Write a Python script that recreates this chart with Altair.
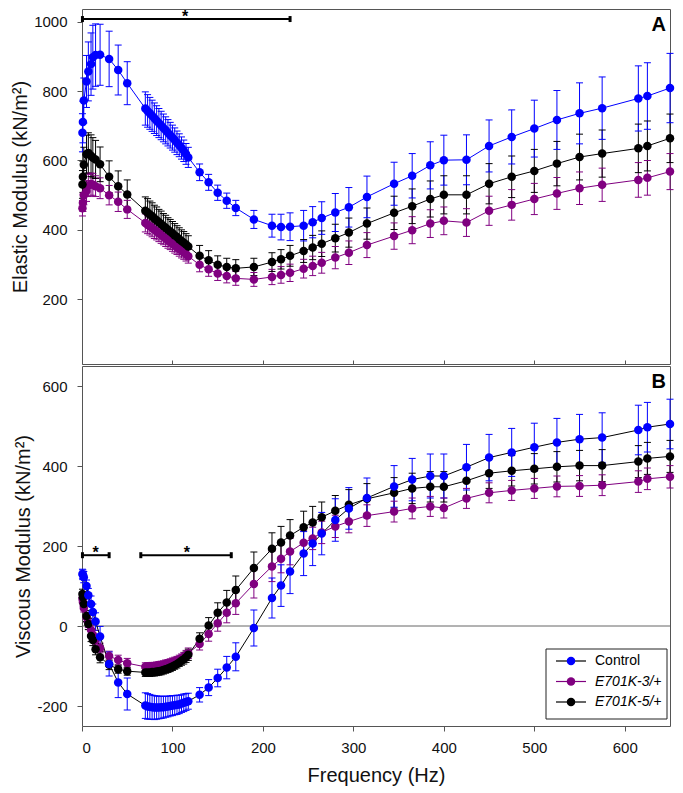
import altair as alt
import pandas as pd

# ---------------- data ----------------
freq = [0.5, 1, 2, 5, 7, 10, 12, 15, 20, 30, 40, 50,
        70, 72.5, 75, 77.5, 80, 82.5, 85, 87.5, 90, 92.5, 95, 97.5, 100, 102.5, 105, 107.5, 110, 112.5, 115, 117.5,
        130, 140, 150, 160, 170, 190, 210, 220, 230, 245, 255, 265, 280, 295, 315, 345, 365, 385, 400, 425, 450,
        475, 500, 525, 550, 575, 615, 625, 650]

genotypes = ["Control", "E701K-3/+", "E701K-5/+"]
series_colors = ["#0000FF", "#800080", "#000000"]

# Panel A: elastic modulus
elastic_control = [680, 711, 773, 828, 857, 878, 898, 904, 905, 893, 861, 823,
                   750, 743, 736, 729, 722, 715, 708, 701, 694, 687, 680, 673, 666, 659, 651, 644, 636, 628, 619, 609,
                   566, 537, 507, 484, 463, 430, 412, 408, 409, 412, 422, 434, 450, 465, 495, 533, 556, 586, 601, 602,
                   642, 668, 692, 717, 736, 751, 779, 786, 809]
elastic_control_se = [55, 60, 65, 75, 85, 90, 92, 90, 88, 80, 72, 62,
                      48, 47, 46, 45, 44, 43, 42, 41, 40, 39, 38, 37, 36, 35, 34, 33, 32, 31, 30, 29,
                      24, 23, 22, 22, 22, 26, 33, 37, 40, 44, 45, 47, 55, 57, 60, 62, 64, 68, 72, 72,
                      75, 78, 82, 85, 88, 90, 94, 96, 100]
elastic_e3 = [462, 478, 500, 512, 528, 532, 530, 526, 520, 500, 481, 459,
              420, 415, 410, 405, 400, 395, 390, 385, 380, 375, 370, 365, 360, 355, 350, 345, 340, 335, 330, 324,
              299, 286, 274, 267, 260, 257, 264, 270, 276, 288, 296, 305, 320, 334, 356, 382, 399, 418, 426, 421,
              455, 472, 489, 505, 520, 530, 544, 550, 568]
elastic_e3_se = [22, 25, 28, 30, 32, 32, 32, 30, 30, 28, 28, 26,
                 26, 26, 25, 25, 25, 24, 24, 24, 23, 23, 23, 22, 22, 22, 21, 21, 21, 20, 20, 20,
                 20, 20, 20, 20, 20, 20, 22, 24, 25, 27, 28, 30, 32, 34, 36, 38, 39, 40, 40, 40,
                 42, 44, 45, 46, 47, 48, 50, 50, 52]
elastic_e5 = [531, 553, 588, 618, 622, 614, 608, 603, 589, 553, 526, 502,
              455, 450, 444, 439, 433, 428, 422, 417, 411, 406, 400, 395, 390, 384, 379, 373, 368, 363, 358, 352,
              325, 312, 299, 293, 289, 293, 307, 315, 325, 339, 349, 360, 376, 392, 418, 449, 468, 489, 501, 501,
              533, 553, 570, 591, 610, 620, 635, 642, 664]
elastic_e5_se = [40, 45, 50, 55, 58, 60, 58, 55, 50, 46, 44, 42,
                 40, 40, 39, 39, 38, 38, 37, 37, 36, 36, 35, 35, 34, 34, 33, 33, 32, 32, 31, 31,
                 30, 28, 26, 25, 25, 25, 27, 28, 30, 33, 35, 37, 40, 42, 45, 48, 50, 52, 55, 55,
                 58, 60, 62, 64, 66, 68, 70, 72, 70]

# Panel B: viscous modulus
viscous_control = [130, 128, 122, 100, 77, 55, 35, 11, -26, -95, -141, -170,
                   -199, -201, -202, -203, -204, -204, -204, -203, -203, -202, -201, -200, -199, -198, -197, -196,
                   -194, -192, -190, -188,
                   -172, -154, -130, -104, -77, -5, 70, 101, 136, 181, 206, 231, 265, 294, 320, 349, 366, 375, 375,
                   397, 421, 434, 447, 459, 467, 471, 490, 497, 505]
viscous_control_se = [12, 12, 14, 15, 17, 20, 20, 22, 25, 30, 38, 40,
                      32, 32, 31, 30, 30, 29, 28, 28, 27, 26, 26, 25, 25, 24, 24, 23, 22, 22, 21, 20,
                      18, 20, 22, 28, 35, 45, 50, 52, 55, 55, 55, 53, 53, 52, 50, 52, 53, 55, 55, 57,
                      58, 60, 60, 60, 62, 62, 62, 62, 62]
viscous_e3 = [68, 60, 45, 22, 8, -10, -22, -35, -55, -75, -85, -93,
              -102, -102, -102, -101, -101, -100, -99, -98, -97, -95, -94, -92, -90, -88, -86, -83, -80, -77, -73, -68,
              -45, -20, 7, 33, 57, 105, 149, 168, 186, 208, 219, 234, 249, 261, 276, 286, 294, 299, 295, 319,
              333, 339, 344, 349, 350, 352, 361, 368, 373]
viscous_e3_se = [10, 10, 10, 12, 12, 12, 12, 12, 12, 12, 12, 12,
                 10, 10, 10, 10, 10, 10, 10, 10, 10, 10, 10, 10, 10, 10, 10, 10, 10, 11, 12, 13,
                 15, 18, 20, 25, 28, 35, 38, 35, 33, 30, 28, 28, 28, 28, 27, 26, 26, 25, 25, 25,
                 25, 25, 25, 26, 26, 26, 27, 27, 28]
viscous_e5 = [80, 72, 55, 25, 5, -25, -35, -58, -78, -97, -108, -113,
              -116, -116, -116, -115, -115, -114, -113, -112, -110, -108, -106, -104, -101, -98, -95, -91, -87, -83,
              -78, -72,
              -32, 1, 33, 59, 90, 145, 193, 209, 226, 247, 259, 272, 288, 303, 318, 333, 344, 348, 348, 363,
              382, 388, 393, 398, 401, 401, 411, 419, 424]
viscous_e5_se = [12, 12, 12, 14, 14, 14, 14, 14, 14, 12, 10, 10,
                 10, 10, 10, 10, 10, 10, 10, 10, 10, 10, 10, 10, 10, 10, 10, 10, 11, 12, 13, 14,
                 15, 20, 25, 30, 35, 40, 40, 40, 40, 40, 40, 38, 38, 38, 38, 38, 38, 38, 38, 38,
                 38, 38, 38, 38, 38, 40, 40, 40, 40]

# significance bars
sigA_start = [0.5]
sigA_end = [230]
sigA_y = [1008]
sigA_star = [114]
sigB_start = [0.5, 65]
sigB_end = [30, 165]
sigB_y = [177, 177]
sigB_star = [15, 116]
zero_line = [0]


def long_table(series):
    rows = []
    for g, vals, errs in series:
        for f, v, e in zip(freq, vals, errs):
            rows.append({"freq": f, "value": v, "lo": v - e, "hi": v + e, "genotype": g})
    return pd.DataFrame(rows)


# drawing order: purple, black, then blue on top
dfA = long_table([("E701K-3/+", elastic_e3, elastic_e3_se),
                  ("E701K-5/+", elastic_e5, elastic_e5_se),
                  ("Control", elastic_control, elastic_control_se)])
dfB = long_table([("E701K-3/+", viscous_e3, viscous_e3_se),
                  ("E701K-5/+", viscous_e5, viscous_e5_se),
                  ("Control", viscous_control, viscous_control_se)])

FONT = "Liberation Sans"
W = 588
HA = 355
HB = 360
xscale = alt.Scale(domain=[0, 650], nice=False, zero=False)
tick_vals = [0, 100, 200, 300, 400, 500, 600]

axisA_x = alt.Axis(values=tick_vals, labels=False, domain=False, title=None, tickSize=4, offset=-4)
axisB_x = alt.Axis(values=tick_vals, title="Frequency (Hz)", labelPadding=9, titlePadding=10)


def color_enc():
    return alt.Color("genotype:N", scale=alt.Scale(domain=genotypes, range=series_colors), legend=None)


def build_panel(df, ydomain, yvals, ytitle, xaxis, line_stroke, label, sig):
    yscale = alt.Scale(domain=ydomain, nice=False, zero=False)
    yaxis = alt.Axis(values=yvals, title=ytitle, labelPadding=10, titlePadding=3,
                     labelExpr="'' + datum.value")
    X = lambda f="freq": alt.X(f"{f}:Q", scale=xscale, axis=xaxis)
    Y = lambda f="value": alt.Y(f"{f}:Q", scale=yscale, axis=yaxis)
    base = alt.Chart(df)
    layers = []
    if label == "B":
        layers.append(alt.Chart(pd.DataFrame({"value": zero_line})).mark_rule(color="#666", strokeWidth=1)
                      .encode(y=Y()))
    layers.append(base.mark_rule(strokeWidth=1).encode(x=X(), y=Y("lo"), y2="hi", color=color_enc()))
    layers.append(base.mark_tick(orient="horizontal", size=7, thickness=1, opacity=1)
                  .encode(x=X(), y=Y("lo"), color=color_enc()))
    layers.append(base.mark_tick(orient="horizontal", size=7, thickness=1, opacity=1)
                  .encode(x=X(), y=Y("hi"), color=color_enc()))
    layers.append(base.mark_line(strokeWidth=1).encode(x=X(), y=Y(), detail="genotype:N", stroke=line_stroke,
                                                         order="freq:Q"))
    layers.append(base.mark_circle(size=72, opacity=1).encode(x=X(), y=Y(), color=color_enc()))
    # significance bars
    starts, ends, ys, stars = sig
    sig_df = pd.DataFrame({"freq": starts, "freq2": ends, "value": ys})
    caps_df = pd.DataFrame({"freq": starts + ends, "value": ys + ys})
    star_df = pd.DataFrame({"freq": stars, "value": ys, "t": ["*"] * len(stars)})
    layers.append(alt.Chart(sig_df).mark_rule(color="black", strokeWidth=2).encode(x=X(), x2="freq2:Q", y=Y()))
    layers.append(alt.Chart(caps_df).mark_tick(orient="vertical", color="black", size=6, thickness=3, opacity=1)
                  .encode(x=X(), y=Y()))
    layers.append(alt.Chart(star_df).mark_text(font=FONT, fontSize=16, fontWeight="bold", dy=-2,
                                               baseline="middle", color="black")
                  .encode(x=X(), y=Y(), text="t:N"))
    # panel letter
    layers.append(alt.Chart(pd.DataFrame({"t": [label]})).mark_text(
        font=FONT, fontSize=20, fontWeight="bold", align="right", baseline="top", color="black")
        .encode(text="t:N", x=alt.value(W - 4), y=alt.value(6)))
    return alt.layer(*layers)


# ---- legend (drawn inside panel B, bottom right) ----
leg_df = pd.DataFrame({"genotype": genotypes, "rank": list(range(len(genotypes)))})
leg_y = alt.Y("rank:Q", axis=None, scale=alt.Scale(domain=[0, 2], range=[295, 336], nice=False, zero=False))
leg_box = alt.Chart(pd.DataFrame({"k": [1]})).mark_rect(fill="white", stroke="#222", strokeWidth=1).encode(
    x=alt.value(W - 124), x2=alt.value(W - 3), y=alt.value(283), y2=alt.value(353))
leg_lines = alt.Chart(leg_df).mark_rule(strokeWidth=1.2).encode(
    x=alt.value(W - 114), x2=alt.value(W - 84), y=leg_y,
    color=alt.condition(alt.datum.genotype == "E701K-3/+", alt.value("#800080"), alt.value("#000000")))
leg_pts = alt.Chart(leg_df).mark_circle(size=72, opacity=1).encode(x=alt.value(W - 99), y=leg_y,
                                                                    color=color_enc())
leg_txt_n = alt.Chart(leg_df).transform_filter(alt.datum.genotype == "Control").mark_text(
    font=FONT, fontSize=14, align="left", baseline="middle", color="black").encode(
    x=alt.value(W - 75), y=leg_y, text="genotype:N")
leg_txt_i = alt.Chart(leg_df).transform_filter(alt.datum.genotype != "Control").mark_text(
    font=FONT, fontSize=14, fontStyle="italic", align="left", baseline="middle", color="black").encode(
    x=alt.value(W - 75), y=leg_y, text="genotype:N")
legend_layer = alt.layer(leg_box, leg_lines, leg_pts, leg_txt_n, leg_txt_i)

panelA = build_panel(dfA, [13, 1037], [200, 400, 600, 800, 1000], "Elastic Modulus (kN/m²)", axisA_x,
                     alt.Stroke("genotype:N", scale=alt.Scale(domain=genotypes, range=series_colors), legend=None),
                     "A", (sigA_start, sigA_end, sigA_y, sigA_star)).properties(width=W, height=HA)
panelB_data = build_panel(dfB, [-250, 650], [-200, 0, 200, 400, 600], "Viscous Modulus (kN/m²)", axisB_x,
                          alt.condition(alt.datum.genotype == "E701K-3/+", alt.value("#800080"),
                                        alt.value("#000000")),
                          "B", (sigB_start, sigB_end, sigB_y, sigB_star))
panelB = alt.layer(panelB_data, legend_layer).resolve_scale(y="independent").properties(width=W, height=HB)

chart = (
    alt.vconcat(panelA, panelB, spacing=0)
    .properties(padding={"left": 2, "top": 0, "right": 0, "bottom": 0})
    .configure_view(stroke="#555", strokeWidth=1)
    .configure_axis(labelFont=FONT, titleFont=FONT, labelFontSize=15, titleFontSize=20,
                    titleFontWeight="normal", labelColor="#111", titleColor="#111",
                    tickColor="#555", tickSize=5, domain=False, grid=False)
)

chart.save("out.html", embed_options={"renderer": "svg", "actions": False})
